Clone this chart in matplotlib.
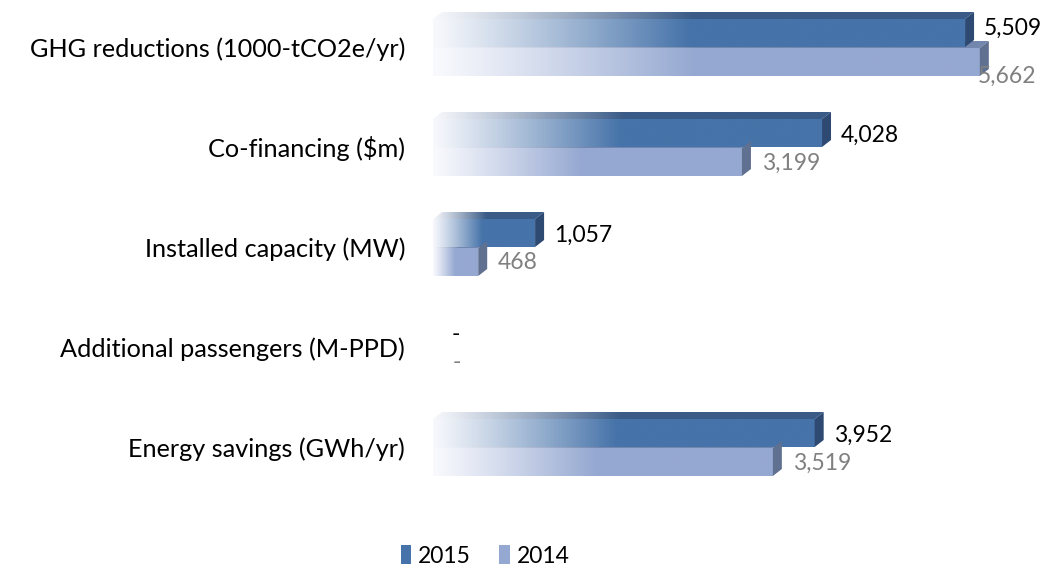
import numpy as np
import matplotlib
matplotlib.use("Agg")
import matplotlib.pyplot as plt
from matplotlib.patches import Polygon, Patch

# ====== DATOS ======
categorias = ["GHG reductions (1000-tCO2e/yr)", "Co-financing ($m)",
              "Installed capacity (MW)", "Additional passengers (M-PPD)",
              "Energy savings (GWh/yr)"]
valores_2015 = [5509, 4028, 1057, 0, 3952]
valores_2014 = [5662, 3199, 468, 0, 3519]
series = ["2015", "2014"]

# ====== ESTILO ======
W, H = 1054, 569
fuente = "Lato"
tam = 18.2      # etiquetas de categoria
tam_num = 16.5  # numeros y leyenda
col_frente = {"2015": "#4673a9", "2014": "#95a8d1"}
col_arriba = {"2015": "#3a5b87", "2014": "#7386ae"}
col_lado = {"2015": "#2e4a72", "2014": "#5f7090"}
col_texto = {"2015": "black", "2014": "#808080"}

fig = plt.figure(figsize=(W / 100, H / 100), dpi=100)
ax_px_izq, ax_px_der = 433, W
ax_px_arr, ax_px_abj = 0, 500
ax = fig.add_axes([ax_px_izq / W, 1 - ax_px_abj / H,
                   (ax_px_der - ax_px_izq) / W, (ax_px_abj - ax_px_arr) / H])
xmax = 6430
ux = xmax / (ax_px_der - ax_px_izq)      # unidades por pixel en x
uy = 1 / 100                               # unidades de categoria por pixel
ax.set_xlim(0, xmax)
ax.set_ylim(5 - 0.47, -0.47)               # frontera de categoria i en y = i

prof_x, prof_y = 9 * ux, 7 * uy
alto = 28 * uy


def relleno_gradiente(xy, color, x0, x1, y0, y1):
    pol = Polygon(xy, closed=True, facecolor="none", edgecolor="none")
    ax.add_patch(pol)
    n = 256
    t = np.clip(np.linspace(0, 1, n) / 0.48, 0, 1) ** 1.1
    t = 0.03 + 0.97 * t
    c = np.array(matplotlib.colors.to_rgb(color))
    img = (1 - t)[:, None] * np.array([0.99, 0.99, 1.0]) + t[:, None] * c
    im = ax.imshow(img[None, :, :], extent=[x0, x1, y1, y0], aspect="auto",
                   interpolation="bilinear", zorder=2)
    im.set_clip_path(pol)


def barra_3d(v, ytop, serie):
    if v <= 0:
        return
    yb = ytop + alto
    # cara superior
    arriba = [(0, ytop), (v, ytop), (v + prof_x, ytop - prof_y), (prof_x, ytop - prof_y)]
    relleno_gradiente(arriba, col_arriba[serie], 0, v + prof_x, ytop - prof_y, ytop)
    # cara frontal
    frente = [(0, ytop), (v, ytop), (v, yb), (0, yb)]
    relleno_gradiente(frente, col_frente[serie], 0, v, ytop, yb)
    # cara lateral
    lado = [(v, ytop), (v + prof_x, ytop - prof_y), (v + prof_x, yb - prof_y), (v, yb)]
    ax.add_patch(Polygon(lado, closed=True, facecolor=col_lado[serie],
                         edgecolor="none", zorder=3))


for i, cat in enumerate(categorias):
    v15, v14 = valores_2015[i], valores_2014[i]
    barra_3d(v14, i + 1 * uy, "2014")
    barra_3d(v15, i - alto, "2015")

    et15 = f"{v15:,}" if v15 else "-"
    et14 = f"{v14:,}" if v14 else "-"
    x15 = v15 + prof_x + 10 * ux
    x14 = v14 + prof_x + 11 * ux
    y15 = i - 12 * uy
    y14 = i + 16 * uy
    # si la etiqueta no cabe, Excel la baja debajo del final de la barra
    if x14 + 60 * ux > xmax:
        x14 = v14 - 2 * ux
        y14 = i + 29 * uy
        y15 = i - 19 * uy
    ax.text(x15, y15, et15, fontsize=tam_num, family=fuente, color=col_texto["2015"],
            va="center", ha="left", zorder=5)
    ax.text(x14, y14, et14, fontsize=tam_num, family=fuente, color=col_texto["2014"],
            va="center", ha="left", zorder=5)

ax.set_xlim(0, xmax)
ax.set_ylim(5 - 0.47, -0.47)
ax.set_yticks(np.arange(len(categorias)))
ax.set_yticklabels(categorias, fontsize=tam, family=fuente)
ax.tick_params(axis="y", length=0, pad=20)
ax.set_xticks([])
for s in ax.spines.values():
    s.set_visible(False)

manejadores = [Patch(facecolor=col_frente[s], edgecolor="none", label=s) for s in series]
fig.legend(handles=manejadores, loc="center", bbox_to_anchor=(485 / W, 1 - 556 / H),
           ncol=2, frameon=False, handlelength=0.45, handleheight=0.9,
           handletextpad=0.3, columnspacing=1.25,
           prop={"family": fuente, "size": tam_num})

fig.savefig("out.png", dpi=100)
